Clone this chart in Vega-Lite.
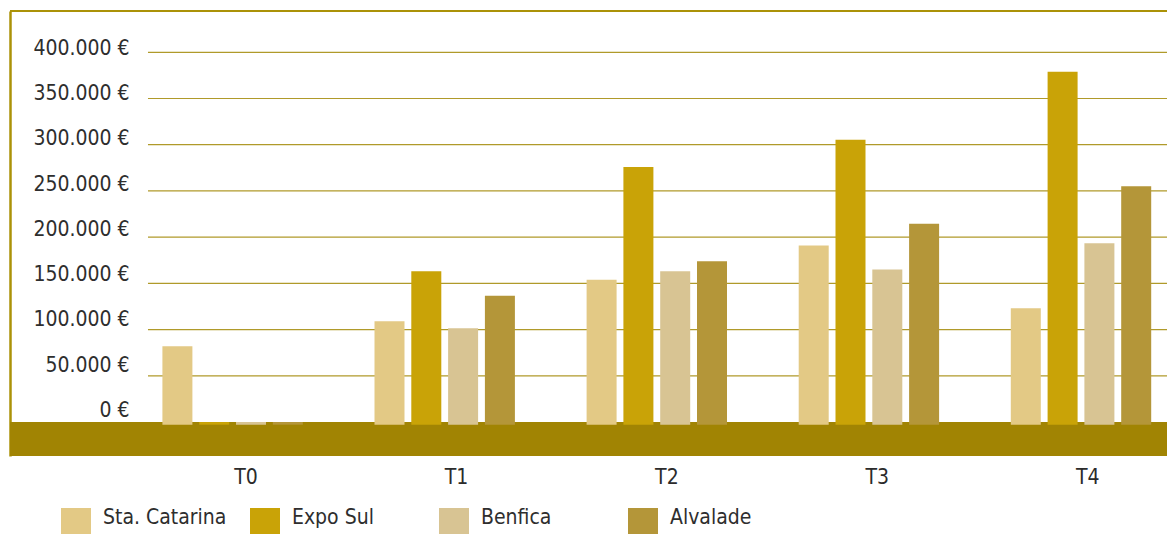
{
  "$schema": "https://vega.github.io/schema/vega-lite/v6.json",
  "width": 1157,
  "height": 445,
  "autosize": {"type": "none"},
  "padding": {"left": 10, "top": 11, "right": 0, "bottom": 78},
  "background": "white",
  "config": {
    "view": {"stroke": null},
    "font": "DejaVu Sans Condensed, Liberation Sans Narrow, sans-serif"
  },
  "datasets": {
    "bars": [
      {"period": "T0", "site": "Sta. Catarina", "value": 82000},
      {"period": "T0", "site": "Expo Sul", "value": 0},
      {"period": "T0", "site": "Benfica", "value": 0},
      {"period": "T0", "site": "Alvalade", "value": 0},
      {"period": "T1", "site": "Sta. Catarina", "value": 109000},
      {"period": "T1", "site": "Expo Sul", "value": 163000},
      {"period": "T1", "site": "Benfica", "value": 101500},
      {"period": "T1", "site": "Alvalade", "value": 136500},
      {"period": "T2", "site": "Sta. Catarina", "value": 154000},
      {"period": "T2", "site": "Expo Sul", "value": 276000},
      {"period": "T2", "site": "Benfica", "value": 163000},
      {"period": "T2", "site": "Alvalade", "value": 174000},
      {"period": "T3", "site": "Sta. Catarina", "value": 191000},
      {"period": "T3", "site": "Expo Sul", "value": 305500},
      {"period": "T3", "site": "Benfica", "value": 165000},
      {"period": "T3", "site": "Alvalade", "value": 214500},
      {"period": "T4", "site": "Sta. Catarina", "value": 123000},
      {"period": "T4", "site": "Expo Sul", "value": 379000},
      {"period": "T4", "site": "Benfica", "value": 193500},
      {"period": "T4", "site": "Alvalade", "value": 255000}
    ],
    "grid": [
      {"tick": 50000}, {"tick": 100000}, {"tick": 150000}, {"tick": 200000},
      {"tick": 250000}, {"tick": 300000}, {"tick": 350000}, {"tick": 400000}
    ]
  },
  "layer": [
    {
      "data": {"name": "grid"},
      "mark": {"type": "rule", "color": "#b09a2a", "strokeWidth": 1.2},
      "encoding": {
        "x": {"datum": "T0", "bandPosition": 0.008, "type": "nominal",
              "scale": {"domain": ["T0", "T1", "T2", "T3", "T4"], "paddingInner": 0.18906, "paddingOuter": 0.32203, "align": 1, "round": false},
              "axis": {"orient": "bottom", "domain": false, "ticks": false, "grid": false, "title": null, "labelAngle": 0,
                       "labelPadding": 10.5, "labelFontSize": 21, "labelColor": "#2b2b2b",
                       "labelOffset": {"expr": "13.5 - 1.7 * indexof(['T0','T1','T2','T3','T4'], datum.value)"},
                       "labelFont": "DejaVu Sans Condensed, Liberation Sans Narrow, sans-serif"}},
        "x2": {"datum": "T4", "bandPosition": 1},
        "y": {"field": "tick", "type": "quantitative",
              "scale": {"domain": [-36787, 444685], "nice": false, "zero": false},
              "axis": {"orient": "left", "title": null, "grid": false, "ticks": false, "tickSize": 0,
                       "domain": true, "domainColor": "#ab9208", "domainWidth": 2.5,
                       "values": [0, 50000, 100000, 150000, 200000, 250000, 300000, 350000, 400000],
                       "labelExpr": "replace(format(datum.value, ','), ',', '.') + ' €'",
                       "labelPadding": -119, "labelFontSize": 21, "labelColor": "#2e2e2e",
                       "labelOffset": {"expr": "-11.5 + datum.value * 7.7 / 400000"},
                       "labelFont": "DejaVu Sans Condensed, Liberation Sans Narrow, sans-serif"}}
      }
    },
    {
      "data": {"values": [{}]},
      "mark": {"type": "rule", "color": "#ab9208", "strokeWidth": 2},
      "encoding": {
        "y": {"datum": 444685, "type": "quantitative"}
      }
    },
    {
      "data": {"values": [{}]},
      "mark": {"type": "rect", "color": "#a18403"},
      "encoding": {
        "y": {"datum": 0, "type": "quantitative"},
        "y2": {"datum": -36787}
      }
    },
    {
      "data": {"name": "bars"},
      "mark": {"type": "bar"},
      "encoding": {
        "x": {"field": "period", "type": "nominal"},
        "xOffset": {"field": "site", "type": "nominal",
                    "sort": ["Sta. Catarina", "Expo Sul", "Benfica", "Alvalade"],
                    "scale": {"paddingInner": 0.1848, "paddingOuter": 0.4293}},
        "y": {"field": "value", "type": "quantitative"},
        "y2": {"datum": -2900},
        "color": {"field": "site", "type": "nominal",
                  "sort": ["Sta. Catarina", "Expo Sul", "Benfica", "Alvalade"],
                  "scale": {"domain": ["Sta. Catarina", "Expo Sul", "Benfica", "Alvalade"],
                            "range": ["#e3c985", "#c9a307", "#d8c493", "#b49639"]},
                  "legend": {"orient": "none", "legendX": 51, "legendY": 492, "direction": "horizontal",
                             "columns": 4, "gridAlign": "all", "columnPadding": 23, "title": null,
                             "symbolType": "M-1,-0.667H1V1.333H-1Z", "symbolSize": 900, "symbolStrokeWidth": 0, "symbolOpacity": 1,
                             "labelOffset": 12, "labelFontSize": 21, "labelColor": "#2e2e2e", "labelLimit": 300,
                             "labelFont": "DejaVu Sans Condensed, Liberation Sans Narrow, sans-serif",
                             "padding": 0}}
      }
    }
  ]
}
